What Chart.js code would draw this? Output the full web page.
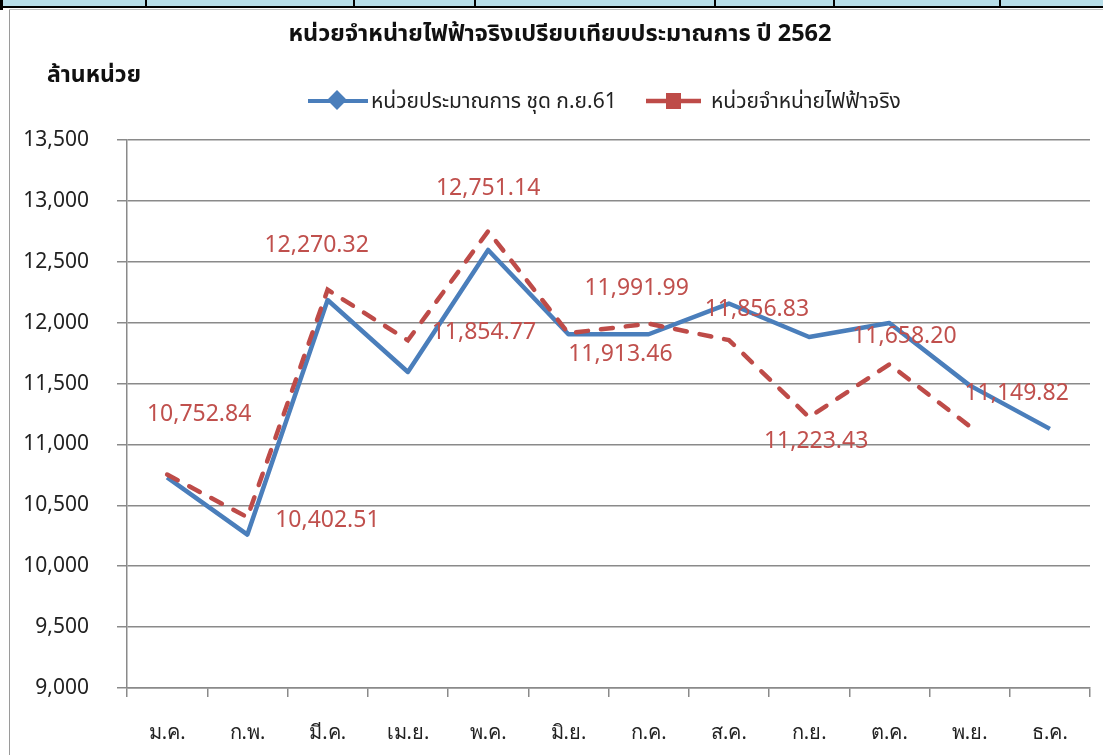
<!DOCTYPE html>
<html>
<head>
<meta charset="utf-8">
<script src="https://cdn.jsdelivr.net/npm/chart.js@4.4.1/dist/chart.umd.min.js"></script>
<style>
  html, body { margin: 0; padding: 0; background: #fff; }
  body { width: 1103px; height: 755px; position: relative; overflow: hidden; font-family: "Noto Sans", "Noto Sans Thai", sans-serif; }
  #wrap { position: absolute; left: 0; top: 0; width: 1103px; height: 755px; }
  .strip { position: absolute; left: 0; top: 0; width: 1103px; height: 6px; background: #b7dde8; border-bottom: 2px solid #000; }
  .vdiv { position: absolute; top: 0; width: 2px; height: 8px; background: #000; }
  .frameL { position: absolute; left: 9px; top: 10px; width: 1px; height: 745px; background: #9a9a9a; }
  .frameT { position: absolute; left: 9px; top: 9px; width: 1094px; height: 1px; background: #bdbdbd; }
  .title { position: absolute; left: 0; width: 1120px; top: 17px; text-align: center; font-weight: bold; font-size: 23.5px; color: #111; white-space: nowrap; line-height: 30px; }
  .ylab { position: absolute; left: 47px; top: 58px; font-weight: bold; font-size: 23px; color: #111; white-space: nowrap; line-height: 30px; }
  .legend { position: absolute; top: 89px; height: 24px; font-size: 21px; color: #222; white-space: nowrap; }
  .legend svg { position: absolute; top: 0; }
  .legend span { position: absolute; top: -3px; line-height: 28px; }
</style>
</head>
<body>
<div id="wrap"><canvas id="c" width="1103" height="755"></canvas></div>
<div class="strip"></div>
<div class="vdiv" style="left:0px;width:3px;height:10px"></div>
<div class="vdiv" style="left:145px"></div>
<div class="vdiv" style="left:353px"></div>
<div class="vdiv" style="left:474px"></div>
<div class="vdiv" style="left:714px"></div>
<div class="vdiv" style="left:833px"></div>
<div class="vdiv" style="left:999px"></div>
<div class="frameT"></div>
<div class="frameL"></div>
<div class="title" id="title"></div>
<div class="ylab" id="ylab"></div>
<div class="legend" id="leg1" style="left:308px">
  <svg width="62" height="24"><line x1="0" y1="12" x2="60" y2="12" stroke="#4A7EBB" stroke-width="4"/><rect x="22" y="4" width="14" height="14" fill="#4A7EBB" transform="rotate(45 29 11)"/></svg>
  <span style="left:63px" id="leg1t"></span>
</div>
<div class="legend" id="leg2" style="left:646px">
  <svg width="58" height="24"><line x1="0" y1="12" x2="55" y2="12" stroke="#BE4B48" stroke-width="4.5"/><rect x="20" y="4" width="15" height="16" fill="#BE4B48"/></svg>
  <span style="left:65px" id="leg2t"></span>
</div>
<script>
// ---- data ----
const titleText = 'หน่วยจำหน่ายไฟฟ้าจริงเปรียบเทียบประมาณการ ปี 2562';
const yAxisTitle = 'ล้านหน่วย';
const seriesNames = ['หน่วยประมาณการ ชุด ก.ย.61', 'หน่วยจำหน่ายไฟฟ้าจริง'];
const categories = ['ม.ค.', 'ก.พ.', 'มี.ค.', 'เม.ย.', 'พ.ค.', 'มิ.ย.', 'ก.ค.', 'ส.ค.', 'ก.ย.', 'ต.ค.', 'พ.ย.', 'ธ.ค.'];
const budgetValues = [10730, 10260, 12186, 11595, 12597, 11905, 11905, 12157, 11882, 11997, 11485, 11128];
const actualValues = [10752.84, 10402.51, 12270.32, 11854.77, 12751.14, 11913.46, 11991.99, 11856.83, 11223.43, 11658.20, 11149.82, null];
const yTicks = [9000, 9500, 10000, 10500, 11000, 11500, 12000, 12500, 13000, 13500];

// label placement offsets (pixels, relative to each point)
const labelOffsets = [[32, -60], [80, 3], [-11, -44], [76, -8], [0, -43], [52, 21], [-12, -35], [28, -31], [7, 24], [15, -28], [47, -33], [0, 0]];

document.getElementById('title').textContent = titleText;
document.getElementById('ylab').textContent = yAxisTitle;
document.getElementById('leg1t').textContent = seriesNames[0];
document.getElementById('leg2t').textContent = seriesNames[1];

const fmt = new Intl.NumberFormat('en-US', { minimumFractionDigits: 2, maximumFractionDigits: 2 });
const fmt0 = new Intl.NumberFormat('en-US');

const labelPlugin = {
  id: 'valueLabels',
  afterDatasetsDraw(chart) {
    const ctx = chart.ctx;
    const ds = chart.data.datasets[1];
    const meta = chart.getDatasetMeta(1);
    ctx.save();
    ctx.font = '23px "Noto Sans", sans-serif';
    ctx.fillStyle = '#C0504D';
    ctx.textAlign = 'center';
    ctx.textBaseline = 'middle';
    meta.data.forEach((pt, i) => {
      const v = ds.data[i];
      if (v === null || v === undefined) return;
      const off = labelOffsets[i];
      ctx.fillText(fmt.format(v), pt.x + off[0], pt.y + off[1]);
    });
    ctx.restore();
  }
};

new Chart(document.getElementById('c'), {
  type: 'line',
  data: {
    labels: categories,
    datasets: [
      {
        label: seriesNames[0],
        data: budgetValues,
        borderColor: '#4A7EBB',
        backgroundColor: '#4A7EBB',
        borderWidth: 4.5,
        pointRadius: 0,
        tension: 0,
        borderJoinStyle: 'round',
        order: 2
      },
      {
        label: seriesNames[1],
        data: actualValues,
        borderColor: '#BE4B48',
        backgroundColor: '#BE4B48',
        borderWidth: 4.5,
        borderDash: [12, 13],
        borderCapStyle: 'round',
        pointRadius: 0,
        tension: 0,
        spanGaps: false,
        order: 1
      }
    ]
  },
  options: {
    responsive: false,
    animation: false,
    devicePixelRatio: 1,
    layout: { padding: { left: 10, right: 13, top: 140, bottom: 0 } },
    plugins: {
      legend: { display: false },
      title: { display: false },
      tooltip: { enabled: false }
    },
    scales: {
      x: {
        offset: true,
        grid: { display: true, offset: true, drawOnChartArea: false, color: '#8a8a8a', lineWidth: 1.5, tickLength: 9 },
        border: { display: true, color: '#8a8a8a', width: 1.5 },
        ticks: { color: '#222', font: { size: 20, family: '"Noto Sans", sans-serif' }, padding: 24, maxRotation: 0, autoSkip: false },
        afterFit(s) { s.height = 67; }
      },
      y: {
        min: 9000,
        max: 13500,
        afterBuildTicks(s) { s.ticks = yTicks.map(v => ({ value: v })); },
        grid: { color: '#8a8a8a', lineWidth: 1.5, tickLength: 10 },
        border: { display: true, color: '#8a8a8a', width: 1.5 },
        ticks: { color: '#222', font: { size: 21, family: '"Noto Sans", sans-serif' }, padding: 28, callback: v => fmt0.format(v) },
        afterFit(s) { s.width = 117; }
      }
    }
  },
  plugins: [labelPlugin]
});
</script>
</body>
</html>
